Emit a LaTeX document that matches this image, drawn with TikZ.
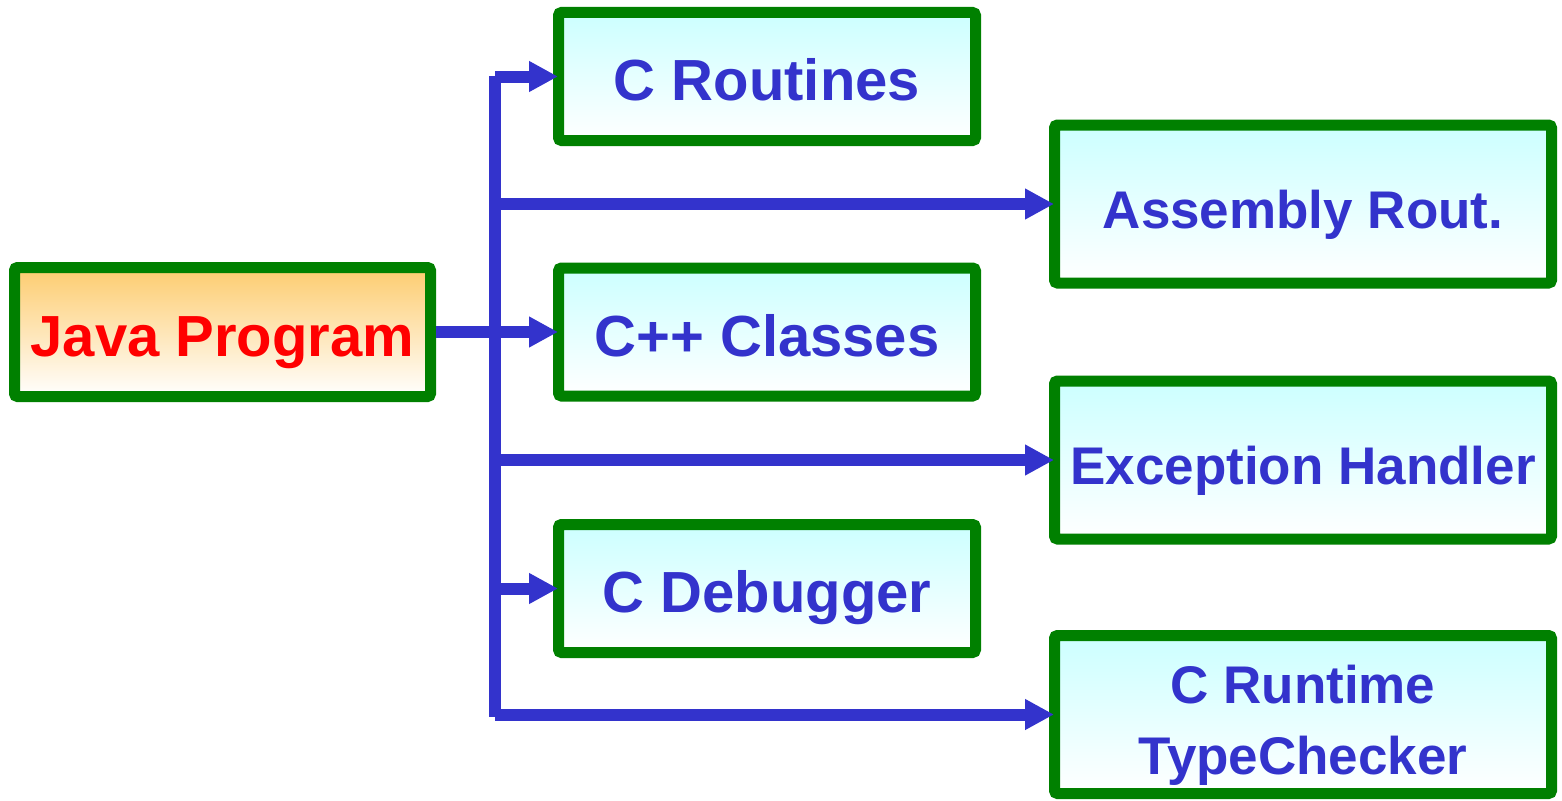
\documentclass[tikz,border=0pt]{standalone}
\usepackage{fontspec}
\setmainfont{Liberation Sans}
\usetikzlibrary{arrows.meta}

\definecolor{boxgreen}{RGB}{0,128,0}
\definecolor{wireblue}{RGB}{51,51,204}
\definecolor{boxcyan}{RGB}{204,255,255}
\definecolor{boxorange}{RGB}{253,204,111}
\definecolor{javared}{RGB}{255,0,0}

\tikzset{
  box/.style={draw=boxgreen, line width=11pt, rounded corners=3pt,
    inner sep=0pt, font=\bfseries, text height=48pt, text depth=0pt},
  leftbox/.style={box, minimum width=417pt, minimum height=128pt,
    top color=boxcyan, bottom color=white, text=wireblue,
    font=\bfseries\fontsize{58}{64}\selectfont},
  rightbox/.style={box, minimum width=497pt, minimum height=158pt,
    top color=boxcyan, bottom color=white, text=wireblue,
    font=\bfseries\fontsize{53}{71}\selectfont},
  javabox/.style={box, minimum width=416pt, minimum height=129pt,
    top color=boxorange, bottom color=white, text=javared,
    font=\bfseries\fontsize{58}{64}\selectfont},
  wire/.style={draw=wireblue, line width=12pt, line cap=butt},
  feed/.style={wire, shorten >=-5pt,
    -{Triangle[length=29pt,width=29pt]}},
}

\begin{document}
\begin{tikzpicture}[x=1pt, y=-1pt]
  \useasboundingbox (0,0) rectangle (1562,800);

  % source program
  \node[javabox] (jp) at (222.5,332) {Java Program};

  % native components, left column
  \node[leftbox] (cr) at (767,76.5)  {C Routines};
  \node[leftbox] (cc) at (767,332)   {C++ Classes};
  \node[leftbox] (cd) at (767,588.5) {C Debugger};

  % native components, right column
  \node[rightbox] (ar) at (1303,204)   {Assembly Rout.};
  \node[rightbox] (eh) at (1303,460)   {Exception Handler};
  \node[rightbox, text height=119pt] (rt) at (1303,714.5)
    {\begin{tabular}[b]{@{}c@{}}C Runtime\\TypeChecker\end{tabular}};

  % distribution trunk
  \coordinate (tk) at (495,0);
  \coordinate (tktop) at (495,76);
  \coordinate (tkbot) at (495,717);
  \draw[wire] (tktop) -- (tkbot);

  % connectors
  \draw[feed] (jp.east) -- (cc.west);
  \draw[feed] (tk |- cr.west) -- (cr.west);
  \draw[feed] (tk |- ar.west) -- (ar.west);
  \draw[feed] (tk |- eh.west) -- (eh.west);
  \draw[feed] (tk |- cd.west) -- (cd.west);
  \draw[feed] (tk |- rt.west) -- (rt.west);
\end{tikzpicture}
\end{document}
